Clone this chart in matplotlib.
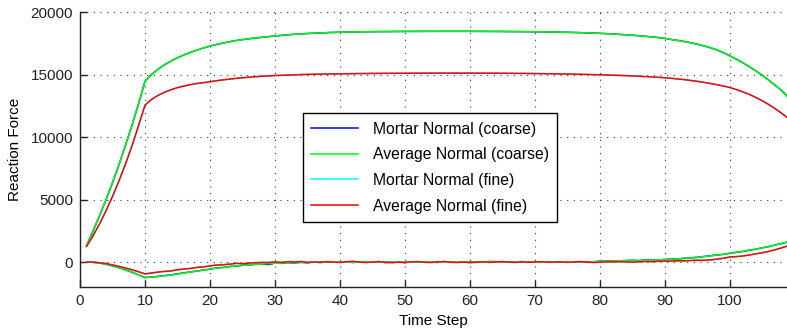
import matplotlib.pyplot as plt
import numpy as np

plt.rcParams['font.family'] = ['Liberation Sans', 'DejaVu Sans']

steps = np.arange(1, 110)

# normal force, coarse mesh (average normal)
avg_coarse_n = [
    1300, 2480, 3700, 4980, 6350, 7800, 9350, 10950, 12650, 14450,
    15000, 15420, 15780, 16080, 16340, 16570, 16770, 16950, 17120, 17270,
    17400, 17515, 17620, 17715, 17790, 17860, 17920, 17975, 18030, 18080,
    18130, 18175, 18215, 18250, 18280, 18305, 18328, 18348, 18366, 18382,
    18396, 18406, 18414, 18421, 18427, 18432, 18436, 18440, 18443, 18446,
    18448, 18450, 18452, 18453, 18454, 18455, 18455, 18455, 18455, 18454,
    18452, 18450, 18448, 18445, 18442, 18438, 18434, 18430, 18425, 18420,
    18413, 18405, 18396, 18386, 18375, 18362, 18348, 18332, 18314, 18294,
    18268, 18240, 18210, 18176, 18140, 18100, 18056, 18008, 17956, 17890,
    17800, 17725, 17640, 17540, 17425, 17295, 17145, 16970, 16750, 16500,
    16230, 15940, 15625, 15290, 14935, 14545, 14135, 13700, 13160,
]
mortar_coarse_n = list(avg_coarse_n)

# normal force, fine mesh (average normal)
avg_fine_n = [
    1250, 2100, 3050, 4100, 5250, 6500, 7850, 9300, 10900, 12550,
    13000, 13330, 13580, 13780, 13950, 14080, 14190, 14280, 14350, 14420,
    14500, 14570, 14630, 14690, 14740, 14785, 14825, 14860, 14890, 14915,
    14938, 14958, 14976, 14992, 15006, 15018, 15029, 15039, 15048, 15056,
    15063, 15069, 15075, 15080, 15085, 15089, 15093, 15096, 15099, 15102,
    15104, 15106, 15108, 15109, 15110, 15111, 15111, 15111, 15111, 15110,
    15109, 15107, 15105, 15102, 15099, 15095, 15091, 15086, 15081, 15075,
    15069, 15062, 15054, 15046, 15037, 15027, 15016, 15004, 14991, 14977,
    14962, 14945, 14927, 14907, 14885, 14861, 14835, 14806, 14775, 14740,
    14695, 14645, 14588, 14524, 14452, 14372, 14283, 14185, 14078, 13960,
    13800, 13615, 13405, 13165, 12895, 12595, 12260, 11890, 11490,
]
mortar_fine_n = list(avg_fine_n)

# tangential force components
avg_coarse_t = [
    0, -20, -80, -180, -310, -460, -630, -820, -1030, -1250,
    -1210, -1160, -1100, -1040, -960, -880, -800, -730, -660, -560,
    -500, -430, -380, -320, -280, -230, -200, -160, -130, -100,
    -90, -60, -70, -40, -50, -10, -30, 20, 0, -10,
    30, -20, 10, 40, -10, 20, -30, 0, 30, -20,
    10, -10, 30, 0, -20, 20, -10, 10, -30, 0,
    30, -10, 20, 40, 0, -20, 10, 20, -10, 10,
    -20, 20, 0, -10, 20, 10, 30, 0, 20, 80,
    90, 70, 100, 110, 130, 120, 150, 160, 175, 190,
    220, 250, 290, 330, 380, 430, 490, 550, 620, 690,
    770, 850, 940, 1030, 1130, 1240, 1360, 1490, 1630,
]
mortar_coarse_t = [
    0, -20, -80, -180, -310, -460, -630, -820, -1030, -1240,
    -1200, -1150, -1090, -1030, -950, -870, -790, -720, -640, -580,
    -470, -440, -360, -330, -260, -240, -180, -170, -200, -90,
    -110, -50, -80, -20, -60, 0, -40, 10, 20, -30,
    20, -40, 30, 20, -30, 40, -50, 10, 20, -40,
    30, -30, 10, 20, -40, 30, 0, -10, -20, 20,
    10, -30, 40, 20, -20, 0, -30, 30, 10, -10,
    -30, 30, 10, -20, 30, 0, 20, 30, 10, 70,
    100, 80, 90, 120, 140, 110, 160, 170, 160, 200,
    230, 240, 300, 340, 370, 440, 500, 560, 610, 700,
    780, 840, 950, 1020, 1140, 1230, 1370, 1480, 1620,
]
avg_fine_t = [
    0, -20, -60, -130, -230, -350, -480, -620, -780, -950,
    -880, -800, -760, -720, -620, -560, -520, -440, -400, -300,
    -250, -220, -180, -100, -140, -80, -60, -30, -50, 10,
    -30, 20, -10, 40, -40, 0, -20, 30, -10, -30,
    20, 50, -10, -40, 0, 30, -20, -60, -10, -50,
    10, 30, -20, -40, 10, 40, -10, -40, 0, -50,
    -10, 20, -30, 10, 40, -10, -30, 20, -20, 0,
    30, -20, -10, 20, -30, 10, 30, -10, -40, -20,
    20, 0, 30, 10, -10, 20, 40, 20, 60, 80,
    70, 100, 90, 120, 140, 130, 170, 230, 300, 400,
    430, 480, 560, 650, 740, 850, 980, 1140, 1300,
]
mortar_fine_t = [
    0, -20, -60, -130, -230, -350, -480, -620, -780, -960,
    -890, -820, -740, -700, -640, -570, -500, -420, -380, -320,
    -240, -200, -170, -130, -110, -90, -40, -50, -20, -10,
    -40, 30, 0, 20, -20, 10, -40, 40, 10, -20,
    0, 40, -30, -20, 20, 10, -40, -30, 10, -30,
    -10, 40, -40, -20, 30, 20, -30, -20, 20, -60,
    -30, 30, -50, 0, 30, -30, -10, 40, -40, 20,
    10, -30, 10, 0, -10, 30, 10, -30, -20, -10,
    10, 20, 20, 30, 0, 10, 50, 40, 50, 70,
    90, 80, 110, 110, 150, 140, 160, 220, 310, 390,
    440, 470, 570, 640, 750, 840, 990, 1130, 1310,
]

labels = ['Mortar Normal (coarse)', 'Average Normal (coarse)',
          'Mortar Normal (fine)', 'Average Normal (fine)']
colors = ['#0000ff', '#00ff00', '#00ffff', '#ff0000']
normal = [mortar_coarse_n, avg_coarse_n, mortar_fine_n, avg_fine_n]
tangent = [mortar_coarse_t, avg_coarse_t, mortar_fine_t, avg_fine_t]

fig = plt.figure(figsize=(7.87, 3.28), dpi=100)
ax = fig.add_axes([0.1017, 0.125, 0.8983, 0.8384])

for n, lab, c in zip(normal, labels, colors):
    ax.plot(steps, n, color=c, lw=1.1, label=lab)
for t, c in zip(tangent, colors):
    ax.plot(steps, t, color=c, lw=1.1)

ax.set_xlim(0, 108.8)
ax.set_ylim(-2000, 20000)
ax.set_xticks(np.arange(0, 101, 10))
ax.set_yticks(np.arange(0, 20001, 5000))
ax.grid(True, linestyle=(0, (1, 5)), color='#333333', lw=0.8)
ax.tick_params(direction='in', length=5, width=1, labelsize=11, pad=5, colors='#222222')
for s in ['top', 'right']:
    ax.spines[s].set_visible(False)
for s in ['left', 'bottom']:
    ax.spines[s].set_color('#222222')
    ax.spines[s].set_linewidth(1.0)

ax.set_xlabel('Time Step', fontsize=11, labelpad=4)
ax.set_ylabel('Reaction Force', fontsize=11, labelpad=6)

leg = ax.legend(loc='upper left', bbox_to_anchor=(0.315, 0.633), borderaxespad=0,
                fontsize=11.3, handlelength=3.0, labelspacing=0.68,
                borderpad=0.55, handletextpad=0.9,
                fancybox=False, framealpha=1, edgecolor='black')
leg.get_frame().set_linewidth(1.0)

fig.savefig('out.png', dpi=100)
